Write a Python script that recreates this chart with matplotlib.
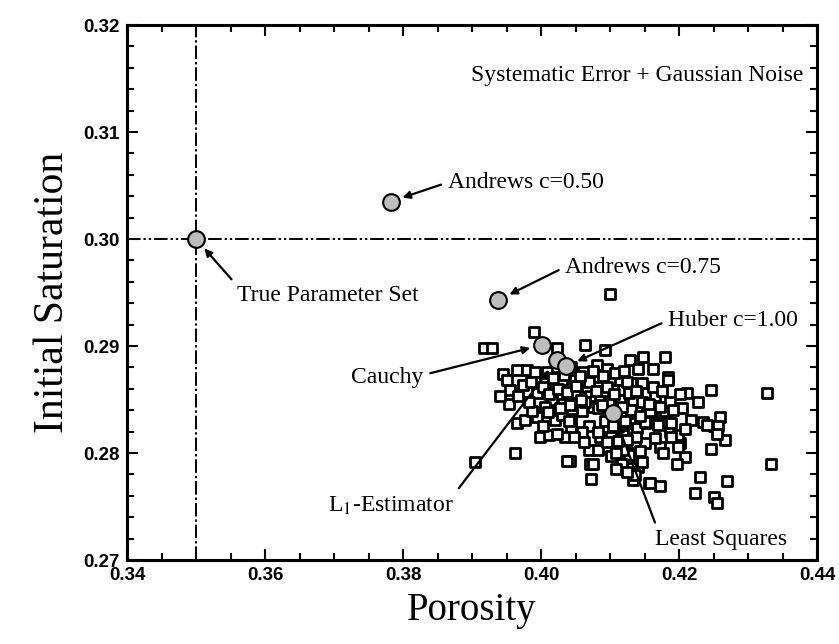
import matplotlib
matplotlib.use("Agg")
import matplotlib.pyplot as plt
from matplotlib.ticker import MultipleLocator, FormatStrFormatter

plt.rcParams["mathtext.fontset"] = "stix"

# ---- data -------------------------------------------------------------
true_param = (0.350, 0.300)

# realisations (open squares)
sq_x = [0.4100, 0.4064, 0.4093, 0.4129, 0.4148, 0.4180, 0.4141, 0.4163, 0.4184, 0.4081,
        0.4095, 0.4081, 0.4112, 0.4131, 0.4146, 0.4153, 0.4247, 0.4327, 0.4211, 0.4228,
        0.4218, 0.4235, 0.4259, 0.4250, 0.4267, 0.4247, 0.4201, 0.4209, 0.4197, 0.4334,
        0.4230, 0.4269, 0.4223, 0.4250, 0.4255, 0.4172, 0.4156, 0.4172, 0.4151, 0.4168,
        0.4187, 0.4175, 0.4153, 0.4134, 0.4119, 0.4146, 0.4066, 0.4076, 0.4069, 0.4086,
        0.4102, 0.4114, 0.4131, 0.4141, 0.4134, 0.4073, 0.4071, 0.4110, 0.4129, 0.4131,
        0.4184, 0.4204, 0.4240, 0.4257, 0.4255, 0.4199, 0.4199, 0.4042, 0.4069, 0.4083,
        0.4076, 0.4102, 0.4127, 0.4131, 0.4136, 0.4158, 0.4146, 0.4177, 0.4151, 0.4165,
        0.4189, 0.4044, 0.4059, 0.4083, 0.4059, 0.4044, 0.4119, 0.4139, 0.4151, 0.4170,
        0.4189, 0.4180, 0.4158, 0.4083, 0.4119, 0.4112, 0.3904, 0.3962, 0.4037, 0.3965,
        0.3977, 0.3994, 0.3999, 0.4011, 0.4020, 0.4030, 0.4035, 0.4023, 0.3990, 0.3917,
        0.3929, 0.4023, 0.3945, 0.3965, 0.3979, 0.3991, 0.3955, 0.3974, 0.3953, 0.3967,
        0.3994, 0.4006, 0.4020, 0.4032, 0.4016, 0.3987, 0.4030, 0.4049, 0.4071, 0.4090,
        0.4042, 0.4064, 0.4114, 0.4165, 0.4187, 0.4201, 0.4172, 0.4146, 0.4127, 0.4049,
        0.4061, 0.4044, 0.4100, 0.4098, 0.3950, 0.3985, 0.4006, 0.4008, 0.3940,
        0.4003, 0.4012, 0.4025, 0.4038, 0.4051, 0.4058, 0.4070, 0.4079, 0.4088, 0.4095,
        0.4106, 0.4117, 0.4124, 0.4138, 0.4143, 0.4157, 0.4010, 0.4027, 0.4040, 0.4093,
        0.4105, 0.4122, 0.4137, 0.4048, 0.4062, 0.4096, 0.4108, 0.4125, 0.4018, 0.4033,
        0.4056, 0.4075, 0.4090, 0.4107, 0.4120, 0.4003, 0.3982, 0.4162, 0.4175, 0.4192,
        0.4208, 0.4143, 0.4118, 0.4125, 0.4108]
sq_y = [0.2949, 0.2901, 0.2896, 0.2887, 0.2890, 0.2890, 0.2879, 0.2879, 0.2871, 0.2882,
        0.2879, 0.2871, 0.2868, 0.2865, 0.2862, 0.2856, 0.2859, 0.2856, 0.2856, 0.2848,
        0.2831, 0.2829, 0.2834, 0.2825, 0.2812, 0.2804, 0.2809, 0.2796, 0.2790, 0.2790,
        0.2778, 0.2774, 0.2763, 0.2759, 0.2753, 0.2769, 0.2772, 0.2806, 0.2828, 0.2828,
        0.2820, 0.2837, 0.2840, 0.2850, 0.2859, 0.2865, 0.2862, 0.2843, 0.2825, 0.2815,
        0.2815, 0.2806, 0.2800, 0.2787, 0.2775, 0.2776, 0.2790, 0.2828, 0.2828, 0.2840,
        0.2868, 0.2842, 0.2826, 0.2825, 0.2818, 0.2817, 0.2806, 0.2793, 0.2803, 0.2803,
        0.2790, 0.2797, 0.2798, 0.2786, 0.2779, 0.2772, 0.2792, 0.2800, 0.2809, 0.2814,
        0.2815, 0.2822, 0.2820, 0.2820, 0.2839, 0.2832, 0.2817, 0.2823, 0.2829, 0.2826,
        0.2828, 0.2839, 0.2839, 0.2842, 0.2803, 0.2811, 0.2792, 0.2800, 0.2793, 0.2828,
        0.2831, 0.2834, 0.2815, 0.2817, 0.2831, 0.2836, 0.2815, 0.2818, 0.2913, 0.2898,
        0.2898, 0.2898, 0.2874, 0.2878, 0.2878, 0.2876, 0.2859, 0.2864, 0.2846, 0.2853,
        0.2856, 0.2865, 0.2871, 0.2846, 0.2850, 0.2839, 0.2868, 0.2856, 0.2853, 0.2858,
        0.2845, 0.2848, 0.2850, 0.2853, 0.2848, 0.2855, 0.2843, 0.2848, 0.2856, 0.2868,
        0.2876, 0.2880, 0.2868, 0.2848, 0.2868, 0.2866, 0.2843, 0.2876, 0.2853,
        0.2862, 0.2855, 0.2860, 0.2857, 0.2863, 0.2850, 0.2866, 0.2858, 0.2845, 0.2862,
        0.2855, 0.2843, 0.2866, 0.2858, 0.2835, 0.2846, 0.2838, 0.2842, 0.2830, 0.2830,
        0.2825, 0.2830, 0.2815, 0.2815, 0.2810, 0.2810, 0.2800, 0.2812, 0.2870, 0.2873,
        0.2872, 0.2877, 0.2872, 0.2875, 0.2877, 0.2825, 0.2848, 0.2862, 0.2858, 0.2840,
        0.2822, 0.2802, 0.2790, 0.2782, 0.2785]

# estimators (gray circles)
est_names = ["Andrews c=0.50", "Andrews c=0.75", "Cauchy", "L$_1$-Estimator",
             "Huber c=1.00", "Least Squares"]
est_x = [0.3782, 0.3938, 0.4002, 0.4023, 0.4036, 0.4105]
est_y = [0.3035, 0.2943, 0.2901, 0.2887, 0.2881, 0.2837]

# label placement (data coords) for each estimator label
lab_x = [0.3865, 0.4035, 0.3777, 0.3783, 0.4184, 0.4165]
lab_y = [0.3053, 0.2973, 0.2871, 0.2751, 0.2924, 0.2719]
lab_ha = ["left", "left", "center", "center", "left", "left"]
lab_rel = [(0.0, 0.5), (0.0, 0.55), (1.0, 0.6), (1.0, 1.0), (0.0, 0.5), (0.02, 1.0)]

true_label = "True Parameter Set"
true_lab_xy = (0.3559, 0.2947)
title_text = "Systematic Error + Gaussian Noise"
title_xy = (0.4139, 0.3153)

# ---- figure -----------------------------------------------------------
serif = ["Liberation Serif", "DejaVu Serif"]
sans = ["Liberation Sans", "DejaVu Sans"]

fig = plt.figure(figsize=(8.39, 6.44), dpi=100)
ax = fig.add_axes([0.1514, 0.1304, 0.8224, 0.8307])

ax.set_xlim(0.34, 0.44)
ax.set_ylim(0.27, 0.32)

ax.axvline(true_param[0], color="black", lw=1.4, ls=(0, (7, 1.5, 1.2, 1.5)), zorder=1)
ax.axhline(true_param[1], color="black", lw=1.4, ls=(0, (7, 1.5, 1.2, 1.5, 1.2, 1.5)), zorder=1)

ax.scatter(sq_x, sq_y, marker="s", s=62, facecolors="white", edgecolors="black",
           linewidths=2.0, zorder=3)

circ_kw = dict(marker="o", s=145, facecolors="#bdbdbd", edgecolors="black",
               linewidths=1.5, zorder=5)
ax.scatter(est_x, est_y, **circ_kw)
ax.scatter([true_param[0]], [true_param[1]], **circ_kw)

def arrow(rel):
    return dict(arrowstyle="-|>", color="black", lw=1.6, mutation_scale=11,
                shrinkA=3, shrinkB=9, relpos=rel)

for nm, ex, ey, lx, ly, ha, rel in zip(est_names, est_x, est_y, lab_x, lab_y, lab_ha, lab_rel):
    ax.annotate(nm, xy=(ex, ey), xytext=(lx, ly), ha=ha, va="center",
                fontsize=17, family=serif, arrowprops=arrow(rel), zorder=6)

ax.annotate(true_label, xy=true_param, xytext=true_lab_xy, ha="left", va="center",
            fontsize=17, family=serif, arrowprops=arrow((0.0, 1.0)), zorder=6)

ax.text(title_xy[0], title_xy[1], title_text, ha="center", va="center",
        fontsize=17, family=serif)

# axes styling
for sp in ax.spines.values():
    sp.set_linewidth(2.2)
ax.xaxis.set_major_locator(MultipleLocator(0.02))
ax.xaxis.set_minor_locator(MultipleLocator(0.005))
ax.yaxis.set_major_locator(MultipleLocator(0.01))
ax.yaxis.set_minor_locator(MultipleLocator(0.002))
ax.xaxis.set_major_formatter(FormatStrFormatter("%.2f"))
ax.yaxis.set_major_formatter(FormatStrFormatter("%.2f"))
ax.tick_params(which="both", direction="in", top=True, right=True, width=1.5)
ax.tick_params(which="major", length=8, pad=5)
ax.tick_params(which="minor", length=5)
for lab in ax.get_xticklabels() + ax.get_yticklabels():
    lab.set_family(sans)
    lab.set_fontsize(13.5)
    lab.set_fontweight("bold")

ax.set_xlabel("Porosity", family=serif, fontsize=28, labelpad=6)
ax.set_ylabel("Initial Saturation", family=serif, fontsize=30, labelpad=8)

fig.savefig("out.png", dpi=100)
